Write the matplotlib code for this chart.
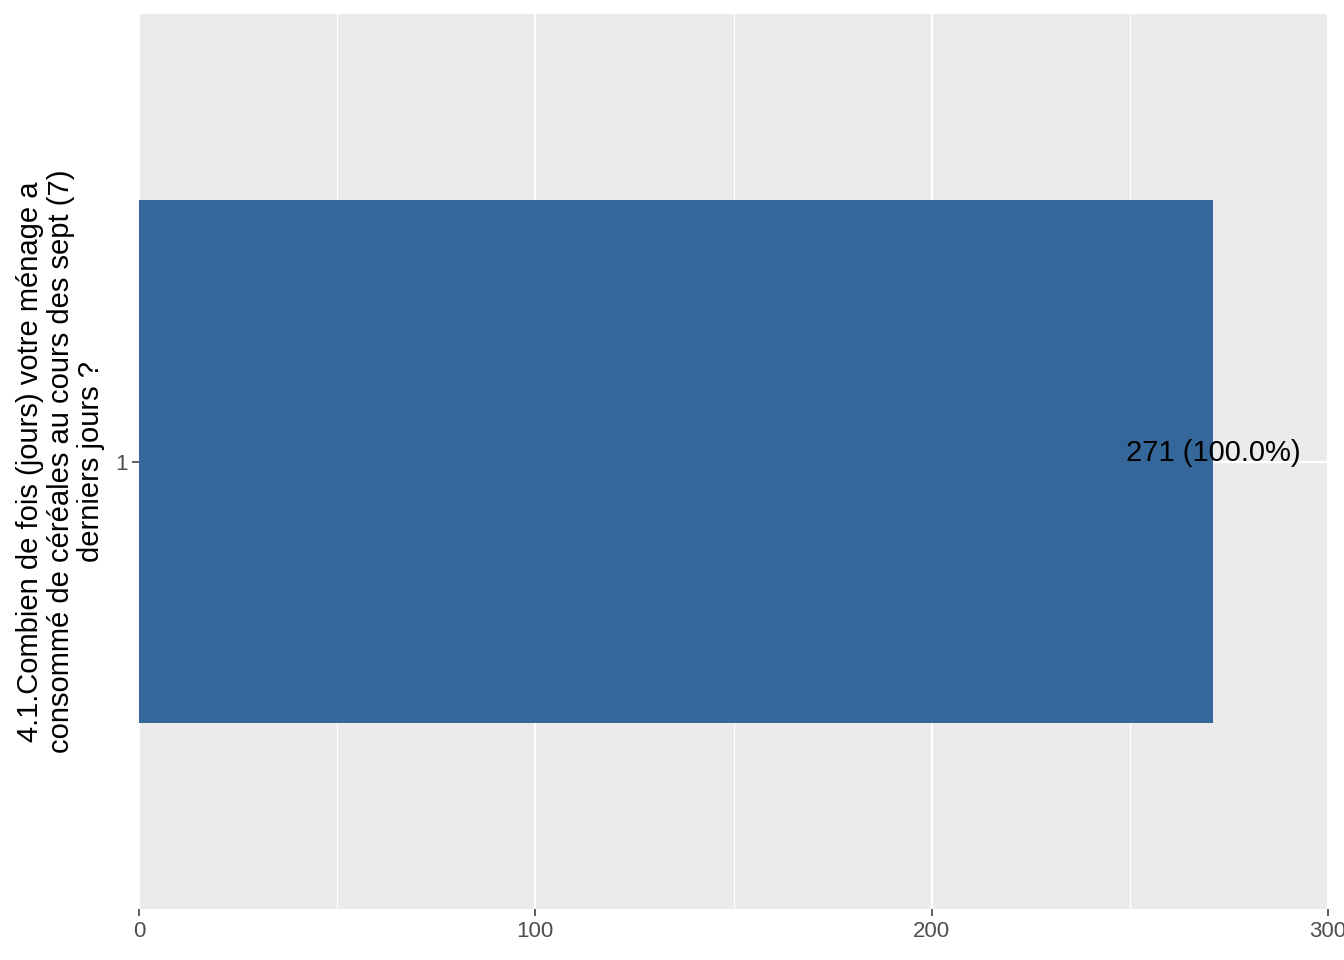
import matplotlib.pyplot as plt
import numpy as np

# data
categories = ["1"]
counts = [271]
total = 271
labels = [f"{c} ({c / total * 100:.1f}%)" for c in counts]
x_ticks = [0, 100, 200, 300]
x_minor = [50, 150, 250]
y_title = ("4.1.Combien de fois (jours) votre ménage a\n"
           "consommé de céréales au cours des sept (7)\n"
           "derniers jours ?")

plt.rcParams['font.family'] = ['Liberation Sans', 'DejaVu Sans']

fig = plt.figure(figsize=(13.44, 9.6), dpi=100)
ax = fig.add_axes([139 / 1344, 51 / 960, (1328 - 139) / 1344, (909 - 14) / 960])

ax.set_facecolor('#EBEBEB')
for s in ax.spines.values():
    s.set_visible(False)

ypos = np.arange(len(categories)) + 1
ax.barh(ypos, counts, height=0.7, color='#35679A', zorder=3)

for y, c, lab in zip(ypos, counts, labels):
    ax.annotate(lab, (c, y), xytext=(0, 6), textcoords='offset points',
                ha='center', va='center', fontsize=21, color='black', zorder=4)

ax.set_xlim(0, 300)
ax.set_ylim(0.4, len(categories) + 0.6)
ax.set_xticks(x_ticks)
ax.set_xticks(x_minor, minor=True)
ax.set_yticks(ypos)
ax.set_yticklabels(categories)

ax.grid(which='major', color='white', linewidth=1.6, zorder=1)
ax.grid(which='minor', axis='x', color='white', linewidth=0.8, zorder=1)
ax.set_axisbelow(True)

ax.tick_params(axis='both', which='major', length=5.3, width=1.1, color='#333333',
               labelsize=16, labelcolor='#4D4D4D', pad=3)
ax.tick_params(axis='x', which='minor', length=0)

ax.set_ylabel(y_title, fontsize=21, color='black', linespacing=1.12, labelpad=7)

fig.savefig('out.png', dpi=100)
